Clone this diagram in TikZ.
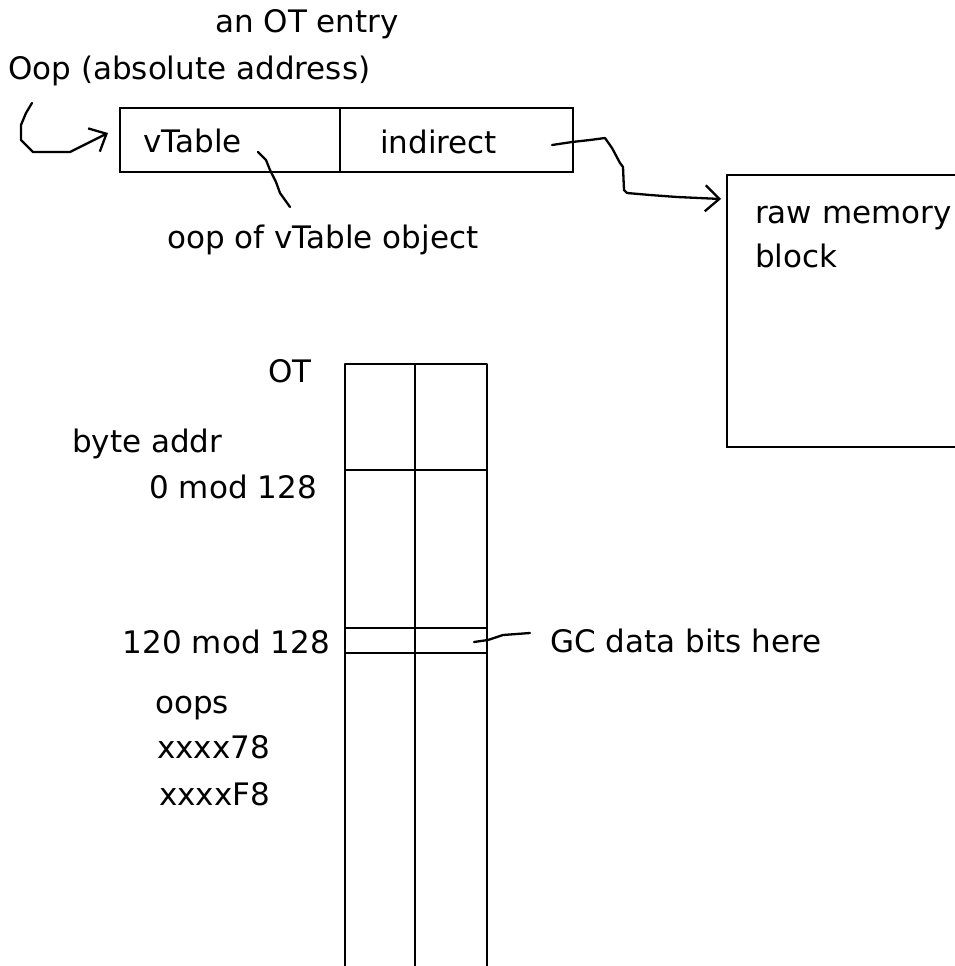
\documentclass[tikz,border=0pt]{standalone}
\usepackage{fontspec}
\setmainfont{DejaVu Sans}
\usetikzlibrary{arrows.meta}
\begin{document}
\begin{tikzpicture}[x=1pt,y=-1pt,
  ln/.style={line width=2.3pt, line join=round, line cap=round},
  lbl/.style={anchor=base west, inner sep=0pt, font=\fontsize{31}{37}\selectfont},
  lblr/.style={anchor=base east, inner sep=0pt, font=\fontsize{31}{37}\selectfont},
  cell/.style={draw, line width=2.3pt, inner sep=0pt, minimum height=64pt},
  barb/.style={-{Straight Barb[length=14pt,width=26pt,line width=2.3pt]}}
]
\useasboundingbox (0,0) rectangle (954,966);
% OT entry box
\node[cell, minimum width=220pt] (vt) at (230,140) {};
\node[cell, minimum width=233pt] (ind) at (456.5,140) {};
% raw memory block
\node[draw, line width=2.3pt, inner sep=0pt, minimum width=260pt, minimum height=272pt] (raw) at (857,311) {};
% texts
\node[lbl] (t1) at (215,33) {an OT entry};
\node[lbl] (t2) at (8,80) {Oop (absolute address)};
\node[lbl] (tvt) at (143,152) {vTable};
\node[lbl] (tind) at (380,153) {indirect};
\node[lbl] (toop) at (167,248) {oop of vTable object};
\node[lbl] (traw) at (755,223) {raw memory};
\node[lbl] (tblk) at (755,267) {block};
\node[lbl] (tot) at (268,382) {OT};
\node[lbl] (tba) at (72,452) {byte addr};
\node[lblr] (t0) at (317,498) {0 mod 128};
\node[lblr] (t120) at (330,653) {120 mod 128};
\node[lbl] (toops) at (155,713) {oops};
\node[lbl] (tx78) at (157,758) {xxxx78};
\node[lbl] (txf8) at (159,805) {xxxxF8};
\node[lbl] (tgc) at (550,652) {GC data bits here};
% OT column
\draw[ln] (345,990) -- (345,364) -- (487,364) -- (487,990);
\draw[ln] (415,364) -- (415,990);
\draw[ln] (345,470) -- (487,470);
\draw[ln] (345,628) -- (487,628);
\draw[ln] (345,653) -- (487,653);
% connectors
\coordinate (oopstart) at (32,103);
\coordinate (oopend) at (108,133);
\draw[ln, barb] (oopstart) -- (26,113) -- (21,125) -- (21,140) -- (33,152) -- (70,152) -- (86,144) -- (oopend);
\coordinate (vtA) at (258,152);
\coordinate (vtB) at (290,207);
\draw[ln] (vtA) -- (266,160) -- (270,170) -- (276,182) -- (280,193) -- (vtB);
\coordinate (indA) at (552,145);
\coordinate (rawin) at (721,199);
\draw[ln, barb] (indA) -- (572,142) -- (590,140) -- (605,138) -- (612,148) -- (620,163) -- (623,167) -- (624,190) -- (627,193) -- (650,195) -- (677,197) -- (rawin);
\coordinate (gcA) at (474,642);
\coordinate (gcB) at (530,633);
\draw[ln] (gcA) -- (488,640) -- (503,635) -- (gcB);
\end{tikzpicture}
\end{document}
